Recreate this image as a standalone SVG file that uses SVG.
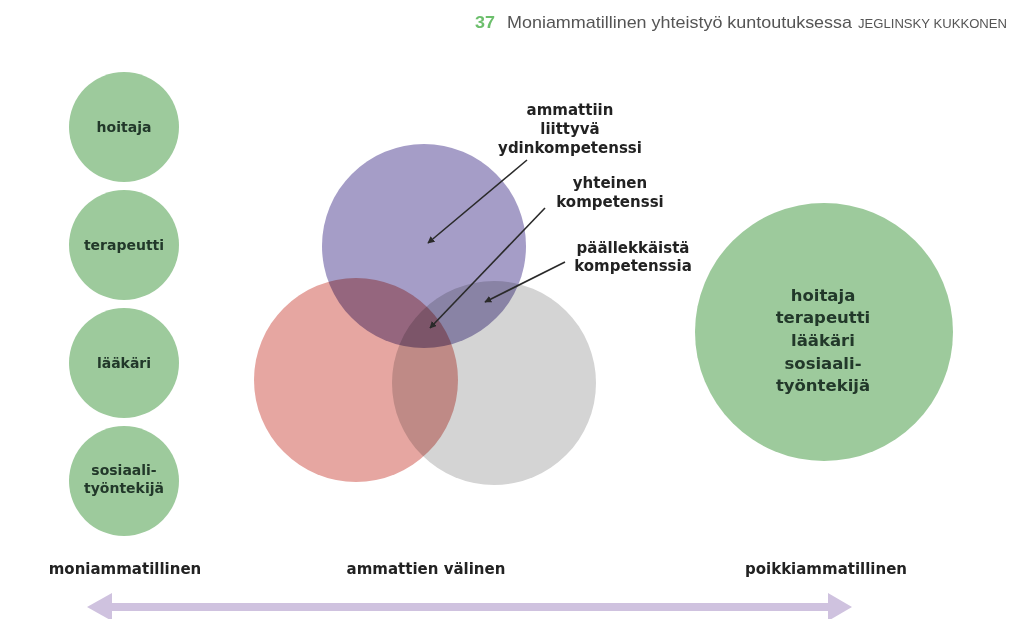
<svg xmlns="http://www.w3.org/2000/svg" width="1011" height="619" viewBox="0 0 1011 619">
<defs>
<style>
.lbl{font-family:"DejaVu Sans",Verdana,sans-serif;font-weight:bold;fill:#222;text-anchor:middle}
.in{font-family:"DejaVu Sans",Verdana,sans-serif;font-weight:bold;fill:#22382a;text-anchor:middle}
.grn{fill:#9dca9c}
.hdr{font-family:"Liberation Sans",Arial,sans-serif;fill:#555}
.ptr{stroke:#2a2a2a;stroke-width:1.6;fill:none;marker-end:url(#ah)}
</style>
<marker id="ah" viewBox="0 0 10 10" refX="9" refY="5" markerWidth="7" markerHeight="7" orient="auto" markerUnits="userSpaceOnUse">
<path d="M0,0 L10,5 L0,10 z" fill="#2a2a2a"/>
</marker>
</defs>
<rect width="1011" height="619" fill="#fff"/>
<g id="header">
<text class="hdr" x="475" y="28" font-size="17" font-weight="bold" style="fill:#6cbf6c" textLength="20" lengthAdjust="spacingAndGlyphs">37</text>
<text class="hdr" x="507" y="28" font-size="17" textLength="345" lengthAdjust="spacingAndGlyphs">Moniammatillinen yhteistyö kuntoutuksessa</text>
<text class="hdr" x="858" y="28" font-size="12" textLength="149" lengthAdjust="spacingAndGlyphs">JEGLINSKY KUKKONEN</text>
</g>
<g id="left-hoitaja"><circle class="grn" cx="124" cy="127" r="55"/><text class="in" x="124" y="132" font-size="14">hoitaja</text></g>
<g id="left-terapeutti"><circle class="grn" cx="124" cy="245" r="55"/><text class="in" x="124" y="250" font-size="14">terapeutti</text></g>
<g id="left-laakari"><circle class="grn" cx="124" cy="363" r="55"/><text class="in" x="124" y="368" font-size="14">lääkäri</text></g>
<g id="left-sosiaali"><circle class="grn" cx="124" cy="481" r="55"/><text class="in" x="124" y="475" font-size="14">sosiaali-</text><text class="in" x="124" y="493" font-size="14">työntekijä</text></g>
<g id="venn" style="isolation:isolate">
<circle cx="424" cy="246" r="102" fill="#a59dc7" style="mix-blend-mode:multiply"/>
<circle cx="356" cy="380" r="102" fill="#e6a6a1" style="mix-blend-mode:multiply"/>
<circle cx="494" cy="383" r="102" fill="#d4d4d4" style="mix-blend-mode:multiply"/>
</g>
<g id="right-all"><circle class="grn" cx="824" cy="332" r="129"/>
<text class="in" x="823" y="301" font-size="16.5">hoitaja</text>
<text class="in" x="823" y="323" font-size="16.5">terapeutti</text>
<text class="in" x="823" y="346" font-size="16.5">lääkäri</text>
<text class="in" x="823" y="369" font-size="16.5">sosiaali-</text>
<text class="in" x="823" y="391" font-size="16.5">työntekijä</text>
</g>
<g id="label-ydin"><text class="lbl" x="570" y="115" font-size="15">ammattiin</text><text class="lbl" x="570" y="134" font-size="15">liittyvä</text><text class="lbl" x="570" y="153" font-size="15">ydinkompetenssi</text></g>
<g id="label-yhteinen"><text class="lbl" x="610" y="188" font-size="15">yhteinen</text><text class="lbl" x="610" y="207" font-size="15">kompetenssi</text></g>
<g id="label-paallekkaista"><text class="lbl" x="633" y="253" font-size="15">päällekkäistä</text><text class="lbl" x="633" y="271" font-size="15">kompetenssia</text></g>
<g id="connectors">
<line class="ptr" x1="527" y1="160" x2="428" y2="243"/>
<line class="ptr" x1="545" y1="208" x2="430" y2="328"/>
<line class="ptr" x1="565" y1="262" x2="485" y2="302"/>
<g id="scale-arrow" fill="#cfc2df">
<rect x="108" y="603" width="724" height="8"/>
<path d="M87,607 L112,593 L112,621 z"/>
<path d="M852,607 L828,593 L828,621 z"/>
</g>
</g>
<g id="bottom-labels">
<text class="lbl" x="125" y="574" font-size="15">moniammatillinen</text>
<text class="lbl" x="426" y="574" font-size="15">ammattien välinen</text>
<text class="lbl" x="826" y="574" font-size="15">poikkiammatillinen</text>
</g>
</svg>
